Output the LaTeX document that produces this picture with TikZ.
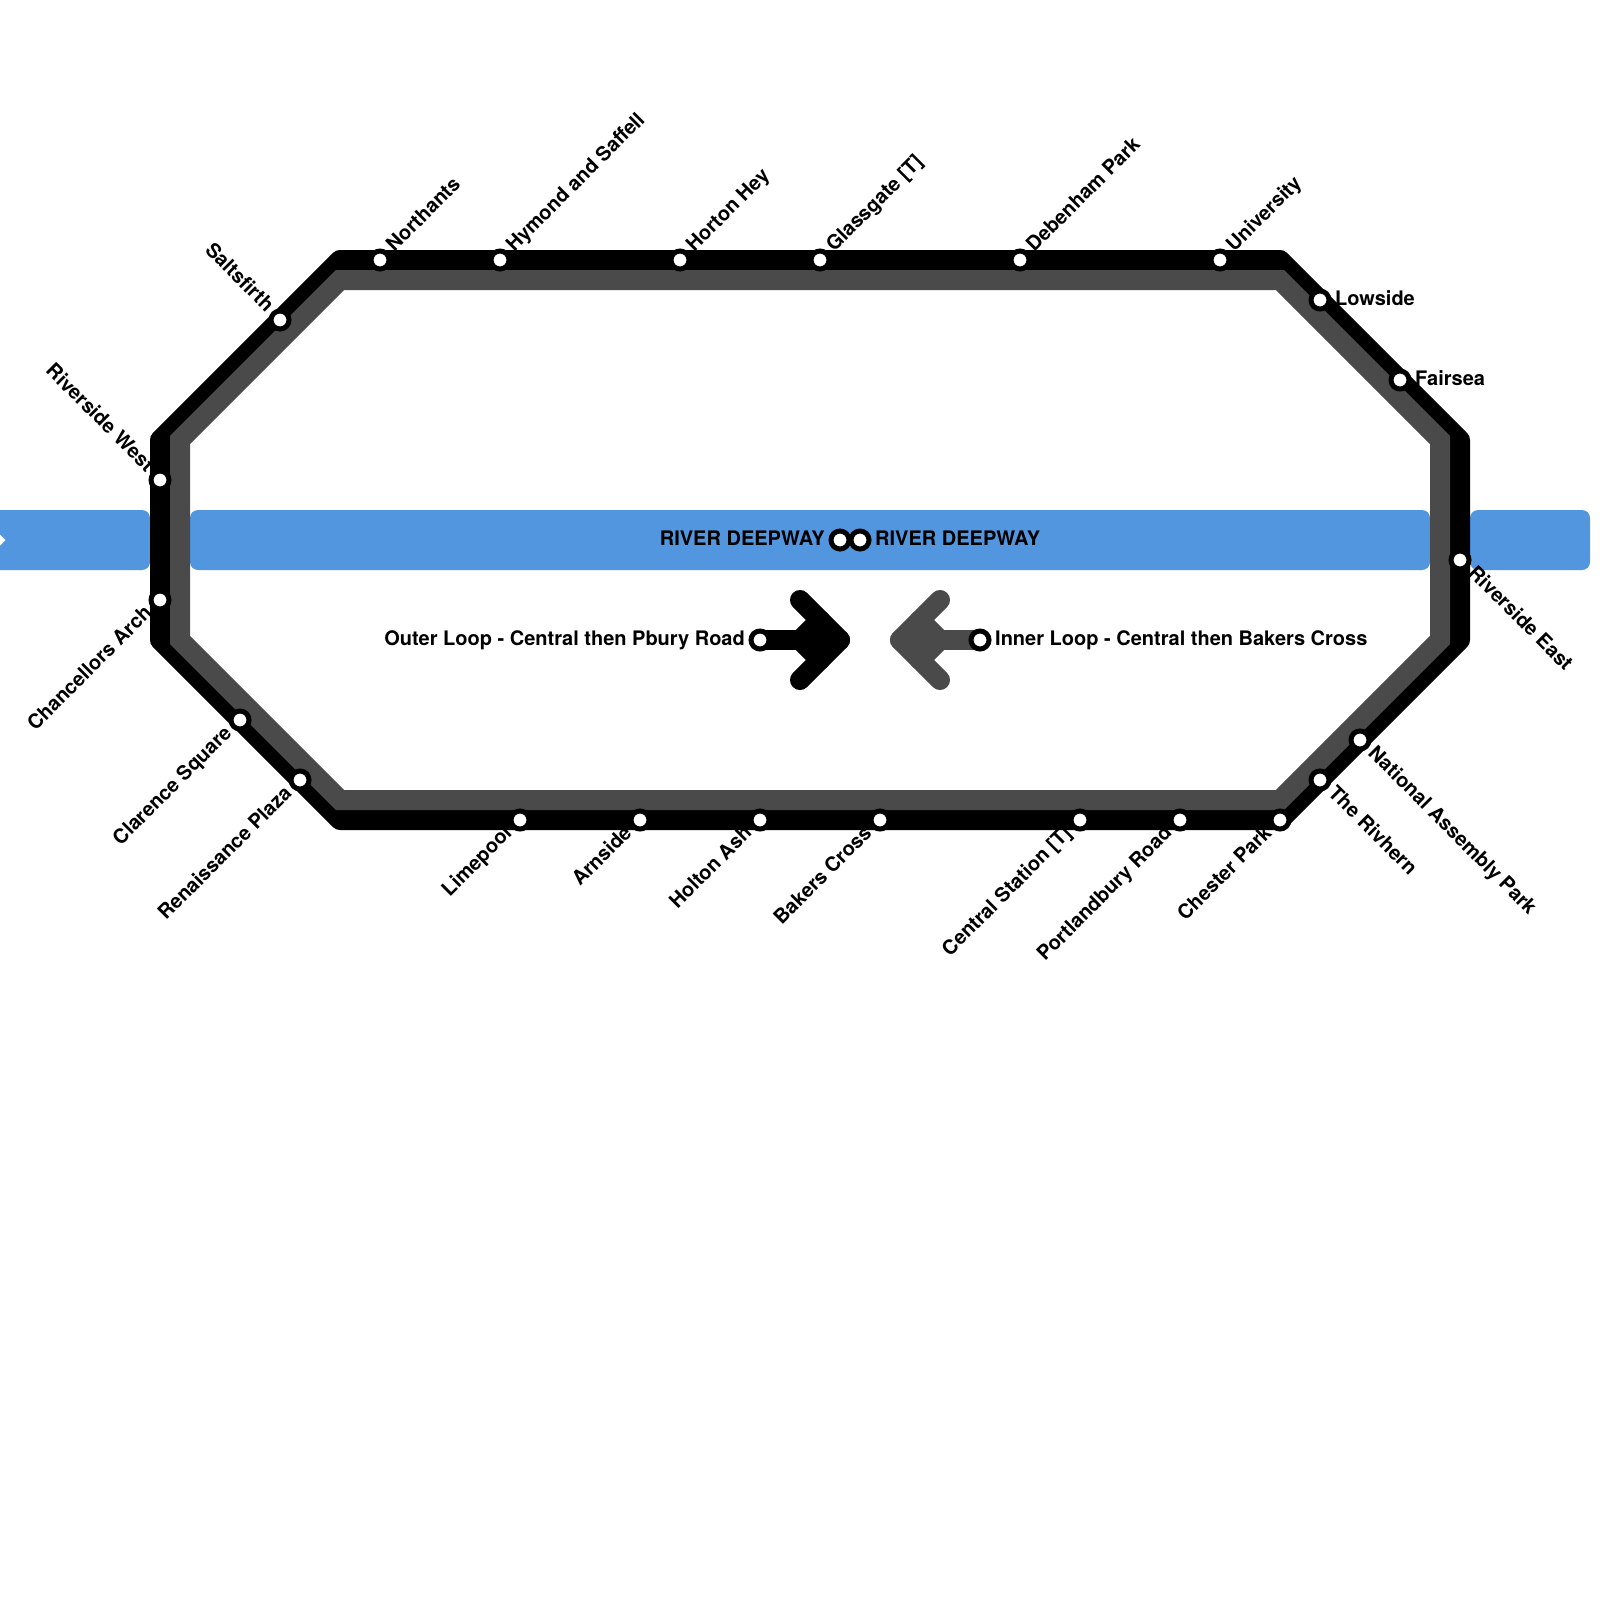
\documentclass[tikz,border=0pt]{standalone}
\usepackage{fontspec}
\setmainfont{TeX Gyre Heros}
\pgfdeclarelayer{riverlayer}\pgfdeclarelayer{lablayer}\pgfdeclarelayer{linelayer}
\pgfsetlayers{riverlayer,lablayer,linelayer,main}
\definecolor{riverblue}{HTML}{5296E0}
\definecolor{innergrey}{HTML}{4A4A4A}
\tikzset{
 stn/.style={circle,draw=black,fill=white,line width=5pt,minimum size=18pt,inner sep=0pt},
 lbl/.style={font=\fontsize{20}{24}\selectfont\bfseries,text=black,inner xsep=15pt,inner ysep=0pt,text height=14pt,text depth=4pt},
 lw/.style={lbl,anchor=west},
 le/.style={lbl,anchor=east},
 up/.style={lw,rotate=45},
 dn/.style={lw,rotate=-45},
 backup/.style={le,rotate=45},
 backdn/.style={le,rotate=-45},
 outer/.style={line width=20pt,draw=black,line join=round,line cap=round},
 inner/.style={line width=20pt,draw=innergrey,line join=miter,line cap=butt},
 arrowblack/.style={line width=20pt,draw=black,line join=round,line cap=round},
 arrowgrey/.style={line width=20pt,draw=innergrey,line join=round,line cap=round},
 river/.style={fill=riverblue,rounded corners=8pt,draw=none},
}
\begin{document}
\begin{tikzpicture}[x=1pt,y=-1pt]
\useasboundingbox (0,0) rectangle (1600,1600);
% stations
\node[stn] (nor) at (380,260) {};
\node[stn] (hym) at (500,260) {};
\node[stn] (hor) at (680,260) {};
\node[stn] (gla) at (820,260) {};
\node[stn] (deb) at (1020,260) {};
\node[stn] (uni) at (1220,260) {};
\node[stn] (low) at (1320,300) {};
\node[stn] (fai) at (1400,380) {};
\node[stn] (rie) at (1460,560) {};
\node[stn] (nat) at (1360,740) {};
\node[stn] (riv) at (1320,780) {};
\node[stn] (che) at (1280,820) {};
\node[stn] (por) at (1180,820) {};
\node[stn] (cen) at (1080,820) {};
\node[stn] (bak) at (880,820) {};
\node[stn] (hol) at (760,820) {};
\node[stn] (arn) at (640,820) {};
\node[stn] (lim) at (520,820) {};
\node[stn] (ren) at (300,780) {};
\node[stn] (cla) at (240,720) {};
\node[stn] (cha) at (160,600) {};
\node[stn] (riw) at (160,480) {};
\node[stn] (sal) at (280,320) {};
\node[stn] (rd1) at (840,540) {};
\node[stn] (rd2) at (860,540) {};
\node[stn] (olp) at (760,640) {};
\node[stn] (ilp) at (980,640) {};
% corners
\coordinate (b1) at (160,440); \coordinate (b2) at (340,260); \coordinate (b3) at (1280,260); \coordinate (b4) at (1460,440);
\coordinate (b5) at (1460,640); \coordinate (b6) at (1280,820); \coordinate (b7) at (340,820); \coordinate (b8) at (160,640);
\coordinate (g1) at (180,440); \coordinate (g2) at (340,280); \coordinate (g3) at (1280,280); \coordinate (g4) at (1440,440);
\coordinate (g5) at (1440,640); \coordinate (g6) at (1280,800); \coordinate (g7) at (340,800); \coordinate (g8) at (180,640);
\begin{pgfonlayer}{riverlayer}
\fill[river] (-30,510) rectangle (150,570);
\fill[river] (190,510) rectangle (1430,570);
\fill[river] (1470,510) rectangle (1590,570);
\fill[white] (0,534.5) -- (5.5,540) -- (0,545.5) -- cycle;
\end{pgfonlayer}
\begin{pgfonlayer}{lablayer}
\node[up] at (nor.center) {Northants};
\node[up] at (hym.center) {Hymond and Saffell};
\node[up] at (hor.center) {Horton Hey};
\node[up] at (gla.center) {Glassgate [T]};
\node[up] at (deb.center) {Debenham Park};
\node[up] at (uni.center) {University};
\node[lw] at (low.center) {Lowside};
\node[lw] at (fai.center) {Fairsea};
\node[dn] at (rie.center) {Riverside East};
\node[dn] at (nat.center) {National Assembly Park};
\node[dn] at (riv.center) {The Rivhern};
\node[backup] at (che.center) {Chester Park};
\node[backup] at (por.center) {Portlandbury Road};
\node[backup] at (cen.center) {Central Station [T]};
\node[backup] at (bak.center) {Bakers Cross};
\node[backup] at (hol.center) {Holton Ash};
\node[backup] at (arn.center) {Arnside};
\node[backup] at (lim.center) {Limepool};
\node[backup] at (ren.center) {Renaissance Plaza};
\node[backup] at (cla.center) {Clarence Square};
\node[backup] at (cha.center) {Chancellors Arch};
\node[backdn] at (riw.center) {Riverside West};
\node[backdn] at (sal.center) {Saltsfirth};
\node[le] at (rd1.center) {RIVER DEEPWAY};
\node[lw] at (rd2.center) {RIVER DEEPWAY};
\node[le] at (olp.center) {Outer Loop - Central then Pbury Road};
\node[lw] at (ilp.center) {Inner Loop - Central then Bakers Cross};
\end{pgfonlayer}
\begin{pgfonlayer}{linelayer}
\draw[outer] (b1)--(b2)--(b3)--(b4)--(b5)--(b6)--(b7)--(b8)--cycle;
\draw[inner] (g1)--(g2)--(g3)--(g4)--(g5)--(g6)--(g7)--(g8)--cycle;
\coordinate (atip) at (840,640);
\draw[arrowblack] (olp.center)--(atip);
\draw[arrowblack] (800,600)--(atip)--(800,680);
\draw[arrowblack] (820,620)--(800,640)--(820,660)--cycle;
\coordinate (gtip) at (900,640);
\draw[arrowgrey] (ilp.center)--(gtip);
\draw[arrowgrey] (940,600)--(gtip)--(940,680);
\draw[arrowgrey] (920,620)--(940,640)--(920,660)--cycle;
\end{pgfonlayer}
\end{tikzpicture}
\end{document}
